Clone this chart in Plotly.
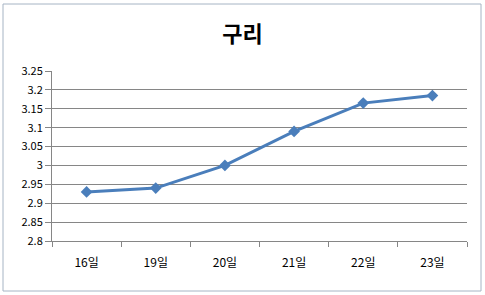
import plotly.graph_objects as go

categories = ["16일", "19일", "20일", "21일", "22일", "23일"]
values = [2.93, 2.94, 3.0, 3.09, 3.165, 3.185]
y_ticks = [2.8, 2.85, 2.9, 2.95, 3.0, 3.05, 3.1, 3.15, 3.2, 3.25]
y_labels = ["2.8", "2.85", "2.9", "2.95", "3", "3.05", "3.1", "3.15", "3.2", "3.25"]
title_text = "구리"

font_fam = "Noto Sans CJK KR, DejaVu Sans, sans-serif"

fig = go.Figure()
fig.add_trace(go.Scatter(
    x=categories, y=values, mode="lines+markers",
    line=dict(color="#4A7EBB", width=3),
    marker=dict(symbol="diamond", size=9, color="#4A7EBB"),
))

fig.update_layout(
    width=485, height=295,
    margin=dict(l=52, r=18, t=71, b=54),
    paper_bgcolor="white", plot_bgcolor="white",
    showlegend=False,
    font=dict(family=font_fam, size=11, color="#000000"),
    title=dict(text="<b>" + title_text + "</b>", x=0.5, xanchor="center",
               y=1 - 34 / 295, yanchor="middle",
               font=dict(family=font_fam, size=22, color="#000000")),
    xaxis=dict(
        type="category", showgrid=False, showline=True, linecolor="#868686",
        linewidth=1, ticks="outside", tickson="boundaries", ticklen=5,
        tickcolor="#868686", ticklabelstandoff=11,
        tickfont=dict(family=font_fam, size=12), range=[-0.5, 5.5],
    ),
    yaxis=dict(
        range=[2.8, 3.25], tickvals=y_ticks, ticktext=y_labels,
        showgrid=True, gridcolor="#868686", gridwidth=1,
        showline=True, linecolor="#868686", linewidth=1,
        ticks="outside", ticklen=6, tickcolor="#868686",
        tickfont=dict(family=font_fam, size=11), zeroline=False,
    ),
    shapes=[dict(type="rect", xref="paper", yref="paper",
                 x0=-52 / 415 + 3 / 415, x1=1 + 14 / 415,
                 y0=-50 / 170, y1=1 + 67 / 170,
                 line=dict(color="#A6B4C4", width=1))],
)

fig.write_html("out.html")
